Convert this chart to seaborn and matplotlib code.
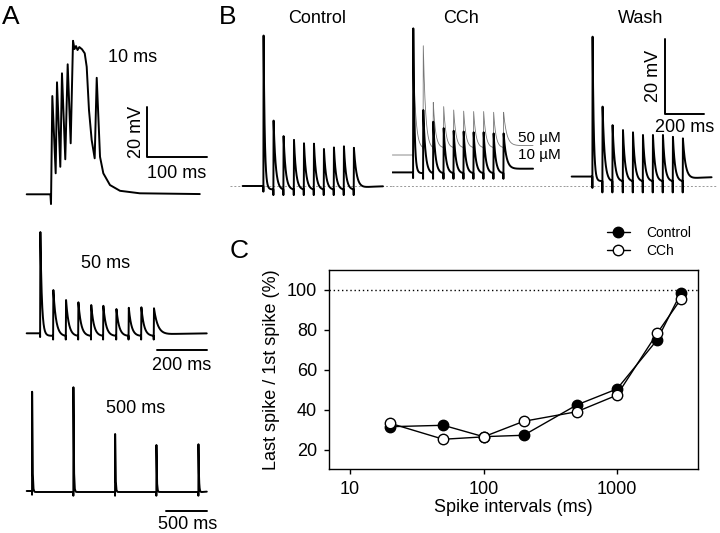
import numpy as np
import pandas as pd
import matplotlib
matplotlib.use('Agg')
import matplotlib.pyplot as plt
from matplotlib.ticker import NullLocator
import seaborn as sns

sns.set_style('ticks')
plt.rcParams['font.family'] = ['Liberation Sans', 'DejaVu Sans']
plt.rcParams['text.color'] = 'k'
plt.rcParams['axes.labelcolor'] = 'k'

W, H = 720, 533

a10_t = [-40.5, -1, 0, 2.2, 7.8, 10.0, 15.5, 18.3, 23.8, 27.8, 32.8, 36.7, 39.2, 41.7,
         44.2, 47.2, 51.7, 56.2, 59.5, 63.3, 67.8, 72.8, 76.2, 81.7, 87.2, 98.3, 115, 148, 248]
a10_v = [0, 0, -3.9, 39.3, 8.4, 44.8, 11, 48.4, 14, 52, 20.4, 61.4, 58.1, 59.3,
         57.7, 58.9, 58, 56.4, 51, 33.7, 21.7, 14.4, 46.6, 15, 8.4, 3.7, 1.4, 0.4, 0.1]

# ---- panel A, 50 ms train
a50_times = [0, 52.6, 104, 154, 206, 255, 308, 358, 409, 460]
a50_peaks = [40.5, 17.3, 13.3, 12.4, 11.3, 11.0, 9.7, 10.2, 10.4, 10.0]

# ---- panel A, 500 ms train
a500_times = [0, 508, 1021, 1529, 2046]
a500_peaks = [39.7, 41.5, 22.8, 18.4, 18.7]

# ---- panel B, 50 ms trains (mV from control rest)
b_times = [0, 51.8, 103.6, 157.5, 209.3, 261, 312.7, 364.5, 416.3, 468]
ctrl_peaks = [39.8, 17.3, 13.2, 12.2, 11.3, 11.2, 9.8, 10.2, 10.5, 10.1]
cch10_peaks = [41.7, 20.1, 17.0, 15.3, 14.6, 14.4, 14.2, 14.2, 13.9, 13.9]
cch50_peaks = [36.0, 37.1, 22.1, 21.0, 20.1, 19.8, 19.7, 19.7, 19.5, 19.5]
wash_peaks = [39.5, 21.0, 16.1, 14.8, 14.2, 13.5, 13.5, 13.5, 13.0, 12.6]

# ---- panel C
intervals = [20, 50, 100, 200, 500, 1000, 2000, 3000]
ctrl_ratio = [31.5, 32.2, 26.5, 27.2, 42.4, 50.4, 75.0, 98.3]
cch_ratio = [33.2, 25.2, 26.4, 34.2, 39.0, 47.3, 78.3, 95.3]


def spike_train(times, peaks, rest, trough, t_start, t_end, tau,
                undershoot, end_level, tau_tail, tau_rec, dip=1.5, rise=1.5, tau_first=None):
    t = [t_start, times[0]]
    v = [rest, rest]
    n = len(times)
    for i in range(n):
        ts, pk = times[i], peaks[i]
        t += [ts + 0.3 * rise, ts + rise]
        v += [v[-1] - dip, pk]
        tk = tau_first if (i == 0 and tau_first) else tau
        if i < n - 1:
            T = times[i + 1] - ts - rise
            s = np.linspace(0, T, 60)[1:]
            f = (np.exp(-s / tk) - np.exp(-T / tk)) / (1 - np.exp(-T / tk))
            t += list(ts + rise + s)
            v += list(trough + (pk - trough) * f)
        else:
            s = np.linspace(0, t_end - ts - rise, 300)[1:]
            tail = (end_level + (pk - undershoot) * np.exp(-s / tau_tail)
                    + (undershoot - end_level) * np.exp(-s / tau_rec))
            t += list(ts + rise + s)
            v += list(tail)
    return np.array(t), np.array(v)


fig = plt.figure(figsize=(W / 100, H / 100), dpi=100)


def trace_ax(x0, y0, sx, sy, left, top, right, bottom):
    ax = fig.add_axes([left / W, 1 - bottom / H, (right - left) / W, (bottom - top) / H])
    ax.set_xlim((left - x0) / sx, (right - x0) / sx)
    ax.set_ylim((y0 - bottom) / sy, (y0 - top) / sy)
    ax.axis('off')
    return ax


def px_text(x, y, s, **kw):
    fig.text(x / W, 1 - y / H, s, **kw)


def draw(ax, t, v, color='k', lw=1.4):
    sns.lineplot(x=t, y=v, ax=ax, color=color, lw=lw, estimator=None, sort=False)


# ---------------- A
ax = trace_ax(51, 194.3, 0.6, 2.5, 20, 30, 220, 215)
draw(ax, a10_t, a10_v)
ax.plot([160, 160, 260], [34.9, 14.9, 14.9], color='k', lw=1.4)

ax = trace_ax(40, 333.3, 0.247, 2.5, 20, 220, 220, 378)
t, v = spike_train(a50_times, a50_peaks, 0, -1.0, -54, 675, 11, -1.2, 0, 16, 60, tau_first=6)
draw(ax, t, v)
ax.plot([475, 675], [-6.7, -6.7], color='k', lw=1.4)

ax = trace_ax(32, 491, 0.0813, 2.5, 20, 380, 220, 533)
t, v = spike_train(a500_times, a500_peaks, 0, -0.4, -65, 2150, 5, -0.6, 0, 6, 120)
draw(ax, t, v)
ax.plot([1648, 2148], [-8, -8], color='k', lw=1.4)

px_text(2, 24, 'A', fontsize=19, va='baseline', ha='left')
px_text(133, 62, '10 ms', fontsize=13, va='baseline', ha='center')
px_text(136.5, 131.7, '20 mV', fontsize=13, va='center', ha='center', rotation=90)
px_text(176.7, 178.3, '100 ms', fontsize=13, va='baseline', ha='center')
px_text(106, 268, '50 ms', fontsize=13, va='baseline', ha='center')
px_text(182, 370, '200 ms', fontsize=13, va='baseline', ha='center')
px_text(136, 413, '500 ms', fontsize=13, va='baseline', ha='center')
px_text(187.5, 529.3, '500 ms', fontsize=13, va='baseline', ha='center')

# ---------------- B
bsx, bsy = 0.193, 3.78
axes_b = [trace_ax(263.3, 186, bsx, bsy, 230, 0, 392, 200),
          trace_ax(413, 186, bsx, bsy, 392, 0, 566, 200),
          trace_ax(592.3, 186, bsx, bsy, 566, 0, 717, 200)]
for ax in axes_b:
    ax.axhline(0, color='#999999', lw=0.7, ls=(0, (2, 2)))

t, v = spike_train(b_times, ctrl_peaks, 0, -0.9, -107, 620, 11, -1.0, 0, 14, 60, tau_first=6)
draw(axes_b[0], t, v)
t, v = spike_train(b_times, cch50_peaks, 8.2, 10.2, -107, 622, 12, 10.6, 10.7, 16, 60, dip=0.5)
draw(axes_b[1], t, v, color='#777777', lw=0.6)
t, v = spike_train(b_times, cch10_peaks, 3.6, 3.4, -107, 622, 11, 4.4, 4.6, 14, 60, tau_first=6)
draw(axes_b[1], t, v)
t, v = spike_train(b_times, wash_peaks, 2.5, 1.3, -107, 618, 11, 1.4, 2.4, 14, 60, dip=3, tau_first=6)
draw(axes_b[2], t, v)
axes_b[2].plot([378, 378, 578], [39.0, 19.0, 19.0], color='k', lw=1.4)

px_text(219, 24, 'B', fontsize=19, va='baseline', ha='left')
px_text(317, 23, 'Control', fontsize=13, va='baseline', ha='center')
px_text(461, 23, 'CCh', fontsize=13, va='baseline', ha='center')
px_text(641, 22.7, 'Wash', fontsize=13, va='baseline', ha='center')
px_text(539, 141.7, '50 µM', fontsize=11, va='baseline', ha='center')
px_text(539, 159, '10 µM', fontsize=11, va='baseline', ha='center')
px_text(653, 76, '20 mV', fontsize=13, va='center', ha='center', rotation=90)
px_text(684.5, 131.7, '200 ms', fontsize=13, va='baseline', ha='center')

# ---------------- C
axC = fig.add_axes([329 / W, 1 - 469 / H, 369 / W, 199 / H])
axC.axhline(100, color='k', lw=1, ls=(0, (1, 2)))
sns.lineplot(x=intervals, y=ctrl_ratio, ax=axC, color='k', lw=1, marker='o', ms=7.5,
             mfc='k', mec='k', mew=1, label='Control', estimator=None)
sns.lineplot(x=intervals, y=cch_ratio, ax=axC, color='k', lw=1, marker='o', ms=7.5,
             mfc='white', mec='k', mew=1, label='CCh', estimator=None)
axC.set_xscale('log')
axC.set_xlim(6.96, 4044)
axC.set_ylim(10.3, 110)
axC.set_xticks([10, 100, 1000])
axC.set_xticklabels(['10', '100', '1000'])
axC.xaxis.set_minor_locator(NullLocator())
axC.set_yticks([20, 40, 60, 80, 100])
for sp in axC.spines.values():
    sp.set_color('k')
    sp.set_linewidth(1)
axC.tick_params(direction='out', length=3.5, width=1, labelsize=13, pad=5, colors='k')
axC.set_xlabel('Spike intervals (ms)', fontsize=13, labelpad=1)
axC.set_ylabel('Last spike / 1st spike (%)', fontsize=13, labelpad=5)
axC.legend(loc='upper left', bbox_to_anchor=(607 / W, 1 - 226 / H),
           bbox_transform=fig.transFigure, frameon=False, fontsize=10,
           handlelength=1.65, handletextpad=1.2, labelspacing=0.3,
           borderpad=0, borderaxespad=0)
px_text(230, 258, 'C', fontsize=19, va='baseline', ha='left')

fig.savefig('out.png', dpi=100)
